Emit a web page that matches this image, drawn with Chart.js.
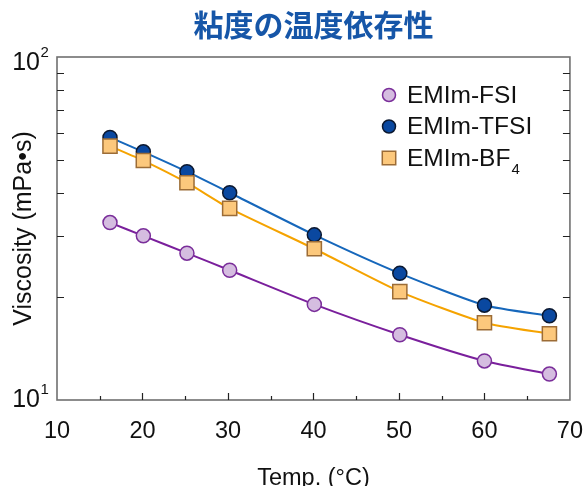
<!DOCTYPE html>
<html>
<head>
<meta charset="utf-8">
<script src="https://cdn.jsdelivr.net/npm/chart.js@4.4.1/dist/chart.umd.min.js"></script>
<style>
  html, body { margin: 0; padding: 0; background: #fff; overflow: hidden; }
  #wrap { width: 592px; height: 500px; }
</style>
</head>
<body>
<div id="wrap"><canvas id="canvas"></canvas></div>
<script>
// data
var temps = [16.2, 20.1, 25.2, 30.2, 40.1, 50.1, 60.0, 67.6];
var fsi  = [32.9, 30.1, 26.8, 23.9, 19.0, 15.5, 13.0, 11.9];
var tfsi = [58.3, 52.9, 46.3, 40.2, 30.3, 23.4, 18.9, 17.6];
var bf4  = [55.0, 49.9, 43.0, 36.2, 27.6, 20.7, 16.8, 15.6];
var seriesNames = ['EMIm-FSI', 'EMIm-TFSI', 'EMIm-BF4'];
var yMinorTicks = [20, 30, 40, 50, 60, 70, 80, 90];
var yLabelTicks = [10, 100];
var xMajorTicks = [20, 30, 40, 50, 60];
var xMinorTicks = [15, 25, 35, 45, 55, 65];

var FONT = "'Liberation Sans', Arial, sans-serif";

function pts(ys) {
  return ys.map(function (v, i) { return {x: temps[i], y: v}; });
}

// frame, inward tick marks and the 10^n labels
var frameTicks = {
  id: 'frameTicks',
  beforeDatasetsDraw: function (chart) {
    var ctx = chart.ctx, a = chart.chartArea, x = chart.scales.x, y = chart.scales.y;
    ctx.save();
    ctx.strokeStyle = '#707070';
    ctx.lineWidth = 1.6;
    ctx.strokeRect(a.left, a.top, a.right - a.left, a.bottom - a.top);
    ctx.strokeStyle = '#222';
    ctx.lineWidth = 1.2;
    ctx.beginPath();
    yMinorTicks.forEach(function (v) {
      var py = Math.round(y.getPixelForValue(v)) + 0.5;
      ctx.moveTo(a.left, py); ctx.lineTo(a.left + 7, py);
      ctx.moveTo(a.right, py); ctx.lineTo(a.right - 7, py);
    });
    xMajorTicks.forEach(function (v) {
      var px = Math.round(x.getPixelForValue(v)) + 0.5;
      ctx.moveTo(px, a.bottom); ctx.lineTo(px, a.bottom - 7);
    });
    xMinorTicks.forEach(function (v) {
      var px = Math.round(x.getPixelForValue(v)) + 0.5;
      ctx.moveTo(px, a.bottom); ctx.lineTo(px, a.bottom - 4);
    });
    ctx.stroke();

    // y labels as 10 with superscript exponent
    ctx.fillStyle = '#111';
    ctx.textBaseline = 'middle';
    yLabelTicks.forEach(function (v) {
      var py = y.getPixelForValue(v);
      if (v === 100) py += 6;
      ctx.font = '25px ' + FONT;
      ctx.textAlign = 'right';
      ctx.fillText('10', 40, py);
      ctx.font = '15px ' + FONT;
      ctx.textAlign = 'left';
      ctx.fillText(String(Math.round(Math.log10(v))), 40.5, py - 10);
    });
    ctx.restore();
  }
};

// legend inside the plot, trailing digits as subscript
var insideLegend = {
  id: 'insideLegend',
  afterDraw: function (chart) {
    var ctx = chart.ctx;
    var x0 = 389, y0 = 95, dy = 31.5;
    ctx.save();
    chart.data.datasets.forEach(function (ds, i) {
      var yy = y0 + i * dy;
      var r = ds.pointStyle === 'rect' ? 9.5 : 6.5;
      ctx.fillStyle = ds.pointBackgroundColor;
      ctx.strokeStyle = ds.pointBorderColor;
      ctx.lineWidth = ds.pointBorderWidth;
      ctx.beginPath();
      if (ds.pointStyle === 'rect') {
        var s = r * Math.SQRT1_2;
        ctx.rect(x0 - s, yy - s, 2 * s, 2 * s);
      } else {
        ctx.arc(x0, yy, r, 0, Math.PI * 2);
      }
      ctx.fill(); ctx.stroke();
      var m = ds.label.match(/^(.*?)(\d+)$/);
      var main = m ? m[1] : ds.label;
      ctx.fillStyle = '#111';
      ctx.textBaseline = 'middle';
      ctx.textAlign = 'left';
      ctx.font = '24.5px ' + FONT;
      ctx.fillText(main, 407, yy + 1);
      if (m) {
        var w = ctx.measureText(main).width;
        ctx.font = '15px ' + FONT;
        ctx.fillText(m[2], 407 + w + 1, yy + 12);
      }
    });
    ctx.restore();
  }
};

var ctx = document.getElementById('canvas').getContext('2d');
var chart = new Chart(ctx, {
  type: 'line',
  data: {
    datasets: [
      {
        label: seriesNames[0], data: pts(fsi), order: 3,
        borderColor: '#7a1f9c', borderWidth: 2,
        pointStyle: 'circle', pointRadius: 7,
        pointBackgroundColor: '#d5bde0', pointBorderColor: '#7a2e9a', pointBorderWidth: 1.5
      },
      {
        label: seriesNames[1], data: pts(tfsi), order: 2,
        borderColor: '#1667bb', borderWidth: 2,
        pointStyle: 'circle', pointRadius: 7,
        pointBackgroundColor: '#0a48a0', pointBorderColor: '#0b1830', pointBorderWidth: 1.5
      },
      {
        label: seriesNames[2], data: pts(bf4), order: 1,
        borderColor: '#f5a300', borderWidth: 2,
        pointStyle: 'rect', pointRadius: 10,
        pointBackgroundColor: '#fcc87c', pointBorderColor: '#9c6c36', pointBorderWidth: 1.5
      }
    ]
  },
  options: {
    responsive: true,
    maintainAspectRatio: false,
    animation: false,
    layout: { padding: { left: 0, right: 0, top: 0, bottom: 0 } },
    plugins: {
      legend: { display: false },
      tooltip: { enabled: false },
      title: {
        display: true,
        fullSize: false,
        text: '粘度の温度依存性',
        color: '#1656a8',
        font: { family: "'Noto Sans CJK JP', sans-serif", size: 30, weight: 'bold', lineHeight: 1.2 },
        padding: { top: 7, bottom: 14 }
      }
    },
    elements: { line: { tension: 0.2 } },
    scales: {
      x: {
        type: 'linear',
        min: 10, max: 70,
        grid: { display: false },
        border: { display: false },
        ticks: { stepSize: 10, padding: 9, color: '#111', font: { family: FONT, size: 23.5 } },
        title: { display: true, text: 'Temp. (°C)', color: '#111', padding: { top: 0, bottom: 7 }, font: { family: FONT, size: 23.5 } },
        afterFit: function (s) { s.height = 100; }
      },
      y: {
        type: 'logarithmic',
        min: 10, max: 100,
        grid: { display: false },
        border: { display: false },
        ticks: {
          autoSkip: false, padding: 7, font: { family: FONT, size: 23 },
          callback: function () { return ''; }
        },
        title: { display: true, text: 'Viscosity (mPa•s)', color: '#111', padding: { top: 9, bottom: 0 }, font: { family: FONT, size: 25 } },
        afterFit: function (s) { s.width = 57; }
      }
    }
  },
  plugins: [frameTicks, insideLegend]
});
</script>
</body>
</html>
